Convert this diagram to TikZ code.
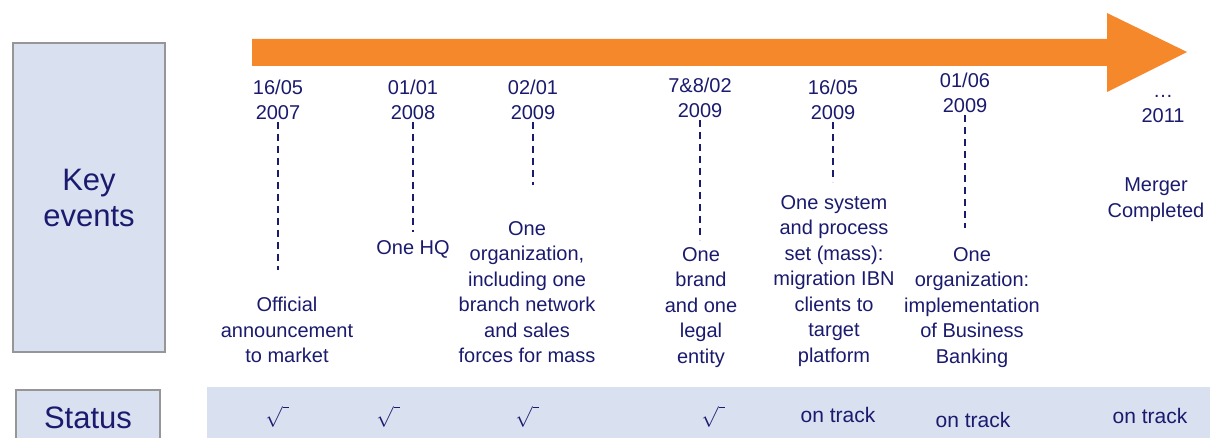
\documentclass[tikz,border=0pt]{standalone}
\usepackage{fontspec}
\setmainfont{Liberation Sans}
\usetikzlibrary{calc}
\definecolor{navy}{RGB}{26,26,110}
\definecolor{paleblue}{RGB}{217,224,239}
\definecolor{boxgray}{RGB}{150,150,150}
\definecolor{timeorange}{RGB}{245,136,42}

\tikzset{
  evtext/.style={text=navy, align=center, inner sep=0pt, font=\fontsize{20}{25.5}\selectfont},
  datetext/.style={evtext, font=\fontsize{20}{25}\selectfont},
  dashline/.style={navy, line width=2pt, dash pattern=on 7pt off 5pt},
  sidebox/.style={draw=boxgray, line width=1.5pt, fill=paleblue, text=navy, align=center, font=\fontsize{31}{36}\selectfont},
  tick/.style={text=navy, inner sep=0pt, font=\fontsize{21}{21}\selectfont},
}

\begin{document}
\begin{tikzpicture}[x=1pt,y=-1pt]
\useasboundingbox (0,0) rectangle (1210,438);

%the side boxes
\node[sidebox, minimum width=152pt, minimum height=309pt] (keyev) at (89,197.5) {Key\\events};
\node[sidebox, minimum width=144pt, minimum height=56pt] (status) at (88,418) {Status};

%status band
\fill[paleblue] (207,387) rectangle (1210,438);

%the time arrow
\fill[timeorange] (252,39) -- (1107,39) -- (1107,13) -- (1187,52) -- (1107,92) -- (1107,66) -- (252,66) -- cycle;

%dates
\node[datetext, anchor=south] (d1) at (278,120) {16/05\\2007};
\node[datetext, anchor=south] (d2) at (413,120) {01/01\\2008};
\node[datetext, anchor=south] (d3) at (533,120) {02/01\\2009};
\node[datetext, anchor=south] (d4) at (700,118) {7\&8/02\\2009};
\node[datetext, anchor=south] (d5) at (833,120) {16/05\\2009};
\node[datetext, anchor=south] (d6) at (965,113) {01/06\\2009};
\node[datetext, anchor=south] (d7) at (1163,123) {…\\2011};

%ends of the dashed lines
\coordinate (t1) at (278,270);
\coordinate (t2) at (413,232);
\coordinate (t3) at (533,185);
\coordinate (t4) at (700,240);
\coordinate (t5) at (833,182);
\coordinate (t6) at (965,228);
\foreach \i in {1,...,6}
  \draw[dashline, shorten <=2pt] (t\i |- d\i.south) -- (t\i);

%the events
\node[evtext, anchor=north] (e1) at (287,297) {Official\\announcement\\to market};
\node[evtext, anchor=north] (e2) at (413,240) {One HQ};
\node[evtext, anchor=north] (e3) at (527,221) {One\\organization,\\including one\\branch network\\and sales\\forces for mass};
\node[evtext, anchor=north] (e4) at (701,247) {One\\brand\\and one\\legal\\entity};
\node[evtext, anchor=north] (e5) at (834,195) {One system\\and process\\set (mass):\\migration IBN\\clients to\\target\\platform};
\node[evtext, anchor=north] (e6) at (972,247) {One\\organization:\\implementation\\of Business\\Banking};
\node[evtext, anchor=north] (e7) at (1156,178) {Merger\\Completed};

%status marks
\node[tick] (s1) at (277,417) {$\sqrt{\;}$};
\node[tick] (s2) at (388,417) {$\sqrt{\;}$};
\node[tick] (s3) at (527,417) {$\sqrt{\;}$};
\node[tick] (s4) at (713,417) {$\sqrt{\;}$};
\node[evtext, font=\fontsize{21}{21}\selectfont] (s5) at (838,415) {on track};
\node[evtext, font=\fontsize{21}{21}\selectfont] (s6) at (973,420) {on track};
\node[evtext, font=\fontsize{21}{21}\selectfont] (s7) at (1150,416) {on track};
\end{tikzpicture}
\end{document}
